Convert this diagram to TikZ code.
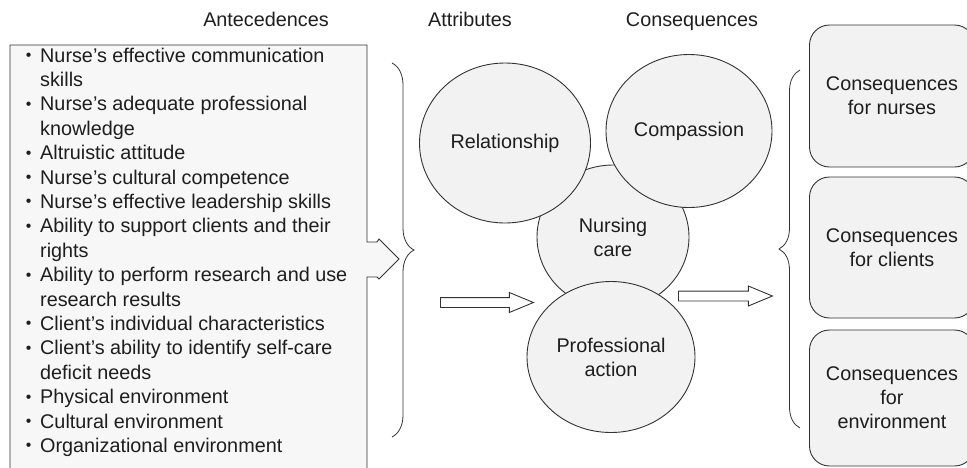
\documentclass[tikz,border=0pt]{standalone}
\usepackage{amsmath, amssymb}
\usepackage{fontspec}
\setmainfont{Liberation Sans}
\usepackage{pgf, tikz}
\usetikzlibrary{positioning, shapes.geometric, shapes.arrows, decorations.pathreplacing}
\definecolor{linegray}{HTML}{333333}
\definecolor{textgray}{HTML}{1E1E1E}
\definecolor{boxfill}{HTML}{F7F7F7}
\definecolor{circfill}{HTML}{F2F2F2}
\newcommand{\itembul}{\makebox[15pt][l]{\hspace*{0.6pt}\raisebox{1.5pt}{\scalebox{0.8}{\textbullet}}}}
\newcommand{\itemind}{\hspace*{15pt}}
\newcommand{\diagfont}{\fontsize{19.8}{24}\selectfont}
\tikzset{
    circnode/.style={
        ellipse,
        draw=linegray, % 边框颜色
        fill=circfill,
        line width=0.9pt,
        inner sep=0,
        align=center,
        text=textgray,
        font=\diagfont
    },
    consbox/.style={
        rectangle,
        rounded corners=20pt, % 圆角
        draw=linegray,
        fill=circfill,
        line width=0.9pt,
        minimum width=165pt,
        inner sep=0,
        align=center,
        text=textgray,
        font=\diagfont
    },
    headnode/.style={
        anchor=base,
        inner sep=0,
        text=textgray,
        font=\diagfont
    },
    itemnode/.style={
        anchor=base west,
        inner sep=0,
        text=textgray,
        font=\diagfont
    },
    blockarrow/.style={
        single arrow,
        draw=linegray,
        fill=white,
        line width=0.9pt,
        inner xsep=0pt,
        inner ysep=4.5pt,
        single arrow head extend=5pt,
        single arrow tip angle=45,
        minimum height=93pt,
        anchor=tail
    },
    bracedeco/.style={
        decorate,
        decoration={brace, amplitude=#1},
        draw=linegray,
        line width=0.8pt
    }
}
\begin{document}
\begin{tikzpicture}[x=1pt, y=-1pt]
            \useasboundingbox (0,0) rectangle (967,467);
            % 标题
            \node[headnode] (antehead) at (266,26) {Antecedences};
            \node[headnode] (attrhead) at (470,26) {Attributes};
            \node[headnode] (conshead) at (692,26) {Consequences};
            % 前因框
            \draw[draw=linegray, fill=boxfill, line width=0.9pt]
                (10,472) -- (10,45) -- (367,45) -- (367,242) -- (377,242) -- (379,239)
                -- (399,259) -- (379,279) -- (377,277) -- (367,277) -- (367,472);
            \foreach \txt [count=\i] in {
                {\itembul Nurse’s effective communication},
                {\itemind skills},
                {\itembul Nurse’s adequate professional},
                {\itemind knowledge},
                {\itembul Altruistic attitude},
                {\itembul Nurse’s cultural competence},
                {\itembul Nurse’s effective leadership skills},
                {\itembul Ability to support clients and their},
                {\itemind rights},
                {\itembul Ability to perform research and use},
                {\itemind research results},
                {\itembul Client’s individual characteristics},
                {\itembul Client’s ability to identify self-care},
                {\itemind deficit needs},
                {\itembul Physical environment},
                {\itembul Cultural environment},
                {\itembul Organizational environment}
            }
                \node[itemnode] (item\i) at (25, {62+24.4*(\i-1)}) {\txt};
            % 括号
            \draw[bracedeco=22pt] (392,63) -- (392,437);
            \draw[bracedeco=21pt] (800,428) -- (800,70);
            % 属性
            \node[circnode, minimum width=152pt, minimum height=144pt] (nursing) at (613,237) {Nursing\\care};
            \node[circnode, minimum width=171pt, minimum height=160pt] (relation) at (505,143) {Relationship};
            \node[circnode, minimum width=166pt, minimum height=153pt] (compassion) at (689,131) {Compassion};
            \node[circnode, minimum width=168pt, minimum height=151pt] (profaction) at (611,357) {Professional\\action};
            % 箭头
            \node[blockarrow] (arrowin) at (440,302.5) {};
            \node[blockarrow, minimum height=94pt] (arrowout) at (678,296) {};
            % 后果
            \node[consbox, minimum height=142pt] (consnurse) at (892,96) {Consequences\\for nurses};
            \node[consbox, minimum height=141pt] (consclient) at (892,247.5) {Consequences\\for clients};
            \node[consbox, minimum height=136pt] (consenv) at (892,398) {Consequences\\for\\environment};
\end{tikzpicture}
\end{document}
